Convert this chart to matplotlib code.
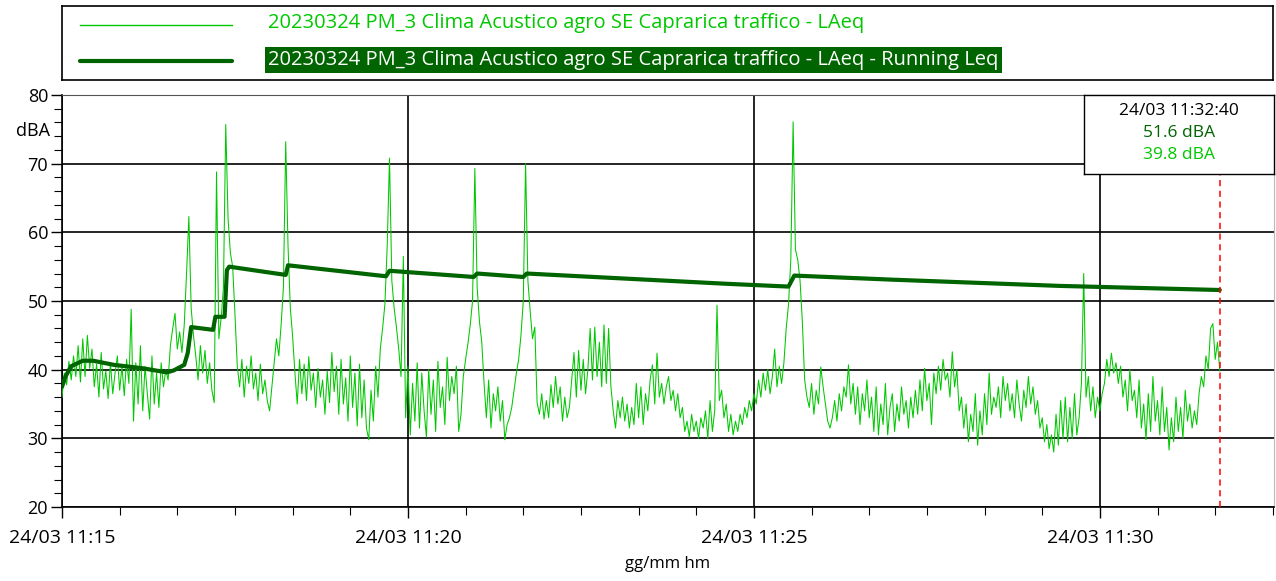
"""Andamento LAeq e Running Leq - 20230324 PM_3 Clima Acustico agro SE Caprarica traffico."""

import matplotlib
matplotlib.use("Agg")
import matplotlib.pyplot as plt
import numpy as np
from matplotlib.ticker import FixedLocator, MultipleLocator

plt.rcParams["font.family"] = ["Open Sans", "DejaVu Sans"]

SERIES_NAME = "20230324 PM_3 Clima Acustico agro SE Caprarica traffico - LAeq"
RUNNING_NAME = SERIES_NAME + " - Running Leq"

# LAeq, un valore ogni 2 s a partire dalle 11:15:00 (dBA)
LAEQ_STEP_S = 2
laeq = [
    36.0, 39.5, 37.8, 41.2, 38.5, 42.0, 39.0, 43.5, 38.2, 44.5,
    39.0, 45.0, 40.2, 43.0, 37.5, 40.8, 36.0, 42.5, 37.2, 39.8,
    35.8, 41.0, 36.5, 39.5, 42.0, 37.0, 40.5, 36.2, 41.5, 38.0,
    48.8, 32.5, 41.0, 35.0, 43.5, 34.0, 40.5, 36.5, 32.8, 42.0,
    35.0, 39.5, 34.5, 41.0, 37.5, 40.0, 38.5, 43.5, 46.0, 48.2,
    43.0, 45.5, 42.5, 46.5, 54.0, 62.3, 49.0, 45.0, 42.0, 38.5,
    43.5, 39.5, 42.8, 38.0, 41.0, 37.0, 35.2, 68.8, 44.5, 47.5,
    52.0, 75.7, 62.0, 57.0, 55.0, 48.0, 40.5, 37.5, 41.5, 36.0,
    40.5, 38.0, 42.0, 37.2, 39.5, 35.5, 40.8, 36.5, 38.5, 35.5,
    34.0, 37.5, 41.0, 44.5, 42.0, 46.5, 52.0, 73.2, 58.0, 49.0,
    44.8, 39.5, 35.0, 41.5, 36.5, 40.8, 35.5, 41.9, 37.0, 39.5,
    34.5, 40.2, 36.0, 38.5, 33.5, 39.8, 35.2, 42.5, 36.8, 40.5,
    33.5, 41.5, 35.0, 38.8, 32.5, 42.0, 34.5, 39.5, 31.8, 40.8,
    33.0, 38.5, 31.5, 29.8, 37.0, 32.5, 40.5, 36.0, 43.0, 46.0,
    49.5, 58.0, 70.8, 53.0, 49.0, 46.2, 43.0, 39.0, 56.5, 33.0,
    40.5, 30.5, 38.0, 32.5, 41.0, 31.5, 39.5, 34.0, 30.2, 40.0,
    33.5, 38.5, 31.0, 41.2, 34.5, 37.5, 32.0, 41.8, 35.5, 39.0,
    36.5, 40.5, 31.0, 33.5, 39.0, 41.5, 43.8, 46.5, 50.0, 69.3,
    52.0, 47.0, 44.0, 38.0, 33.0, 38.5, 31.5, 36.5, 34.0, 37.5,
    32.5, 35.5, 29.8, 32.0, 33.0, 34.5, 37.0, 39.5, 41.5, 45.0,
    50.0, 70.0, 53.0, 48.5, 44.5, 46.2, 35.2, 33.5, 36.5, 32.8,
    35.5, 33.0, 37.8, 34.5, 39.0, 35.0, 37.5, 32.5, 36.0, 33.0,
    34.5, 38.5, 42.5, 36.0, 42.8, 37.0, 41.5, 36.5, 40.0, 46.0,
    38.5, 46.2, 39.0, 44.0, 37.5, 46.5, 38.0, 46.0, 37.5, 34.0,
    31.5, 35.5, 33.0, 36.0, 32.5, 35.0, 31.5, 34.5, 32.0, 38.0,
    33.0, 37.5, 32.0, 36.5, 34.0, 38.5, 40.7, 35.0, 42.4, 36.0,
    38.0, 35.0, 37.5, 39.0, 35.5, 37.0, 34.0, 36.5, 33.0, 34.5,
    31.0, 32.5, 30.2, 33.5, 31.0, 32.5, 30.0, 33.0, 31.5, 34.0,
    30.0, 35.5, 31.0, 34.0, 49.4, 35.5, 37.0, 33.0, 35.0, 31.0,
    33.5, 30.5, 32.5, 31.0, 33.5, 32.0, 34.5, 33.0, 35.5, 34.0,
    36.5, 35.0, 38.5, 36.0, 39.5, 37.0, 40.0, 36.5, 39.0, 43.0,
    37.5, 40.5, 38.0, 41.0, 46.0, 49.5, 56.0, 76.1, 57.5, 56.0,
    53.0, 47.0, 38.5, 36.0, 34.5, 38.0, 33.5, 37.0, 35.0, 40.4,
    37.5, 35.0, 32.5, 31.5, 33.0, 35.5, 32.5, 36.5, 34.0, 37.5,
    36.0, 40.7, 35.0, 38.0, 33.5, 37.5, 32.0, 36.5, 34.0, 38.5,
    33.0, 36.0, 31.0, 37.5, 30.5, 35.0, 32.0, 38.0, 30.5, 34.5,
    36.5, 31.0, 35.0, 32.5, 37.5, 33.5, 35.5, 31.5, 36.0, 33.0,
    37.0, 33.5, 38.5, 34.0, 40.2, 35.5, 38.0, 32.0, 39.5, 36.5,
    40.5, 37.0, 41.5, 38.5, 39.5, 36.0, 42.6, 37.5, 40.0, 34.0,
    36.0, 31.5, 35.0, 29.5, 33.5, 31.0, 36.5, 29.0, 34.0, 30.5,
    36.5, 32.0, 39.5, 33.5, 36.0, 34.5, 37.5, 33.0, 39.0, 35.5,
    38.0, 34.0, 36.5, 33.0, 38.5, 35.0, 32.5, 37.0, 34.5, 39.0,
    35.0, 37.5, 33.5, 35.5, 31.5, 33.0, 29.5, 32.0, 28.5, 30.5,
    28.0, 33.5, 29.0, 35.5, 30.0, 36.0, 29.5, 34.5, 30.0, 36.5,
    30.5, 33.0, 38.0, 54.0, 36.0, 39.0, 34.0, 37.5, 33.0, 36.0,
    34.0, 36.5, 38.0, 41.5, 39.0, 42.4, 39.5, 41.0, 38.0, 40.5,
    36.0, 38.5, 34.0, 40.0, 35.5, 37.0, 33.0, 38.5, 31.5, 35.0,
    29.8, 36.5, 31.0, 39.0, 32.5, 35.5, 30.5, 37.5, 31.0, 34.5,
    28.3, 33.0, 29.5, 36.0, 31.0, 34.5, 30.0, 37.0, 32.5, 35.0,
    31.5, 34.0, 32.0, 36.5, 39.0, 37.5, 42.0, 40.0, 46.0, 46.7,
    41.5, 44.0, 39.8,
]

# Running Leq: secondi dalle 11:15:00 e valori (dBA)
running_t = [0, 3, 8, 18, 27, 45, 70, 91, 97, 106, 109, 112, 131, 133, 141, 143,
             145, 194, 196, 281, 284, 357, 360, 400, 403, 577, 630, 635, 721,
             865, 1004]
running_leq = [37.5, 39.0, 40.5, 41.3, 41.3, 40.7, 40.2, 39.6, 39.9, 40.7, 42.4,
               46.2, 45.8, 47.7, 47.7, 54.5, 55.0, 53.8, 55.2, 53.6, 54.4, 53.5,
               54.0, 53.5, 54.0, 52.5, 52.1, 53.7, 53.1, 52.2, 51.6]

# Asse dei tempi
major_ticks_s = [0, 300, 600, 900]
major_labels = ["24/03 11:15", "24/03 11:20", "24/03 11:25", "24/03 11:30"]
x_end_s = 1051
cursor_s = 1004
cursor_text = ["24/03 11:32:40", "51.6 dBA", "39.8 dBA"]

GREEN = "#00C800"
DARK_GREEN = "#006400"

fig = plt.figure(figsize=(12.76, 5.81), dpi=100)
W, H = 1276, 581

ax = fig.add_axes([62 / W, 1 - 507 / H, (1274 - 62) / W, (507 - 95) / H])
laeq_t = np.arange(len(laeq)) * LAEQ_STEP_S
ax.plot(laeq_t, laeq, color=GREEN, lw=0.75, zorder=3)
ax.plot(running_t, running_leq, color=DARK_GREEN, lw=3.0, zorder=4,
        solid_capstyle="round")

ax.set_xlim(0, x_end_s)
ax.set_ylim(20, 80)

ax.yaxis.set_major_locator(MultipleLocator(10))
ax.yaxis.set_minor_locator(MultipleLocator(2))
ax.xaxis.set_major_locator(FixedLocator(major_ticks_s))
ax.xaxis.set_minor_locator(MultipleLocator(50))
ax.set_xticklabels(major_labels)
ax.tick_params(axis="both", which="major", length=8, width=1,
               direction="out", colors="black")
ax.tick_params(axis="y", which="major", labelsize=13, pad=2)
ax.tick_params(axis="x", which="major", labelsize=14, pad=8)
ax.tick_params(axis="both", which="minor", length=6, width=0.8, direction="out")

ax.grid(True, which="major", color="black", lw=1.2, zorder=1)
for side in ["left", "bottom"]:
    ax.spines[side].set_linewidth(1.2)
ax.spines["top"].set_color("#555555")
ax.spines["right"].set_color("#bbbbbb")

ax.text(50 / W, 1 - 131 / H, "dBA", transform=fig.transFigure, ha="right",
        va="center", fontsize=13)
ax.set_xlabel("gg/mm hm", fontsize=12, labelpad=6)

# cursore
ax.axvline(cursor_s, ymax=(68.5 - 20) / 60, color="red", lw=1.1,
           ls=(0, (4, 3)), zorder=5)
box = fig.add_axes([1084 / W, 1 - 174 / H, (1274 - 1084) / W, (174 - 95) / H])
box.set_xticks([])
box.set_yticks([])
for s in box.spines.values():
    s.set_linewidth(1.0)
for text, color, yy in zip(cursor_text, ["black", DARK_GREEN, GREEN],
                           [0.80, 0.52, 0.24]):
    box.text(0.5, yy, text, color=color, ha="center", va="center",
             fontsize=12.5, transform=box.transAxes)

# legenda
leg = fig.add_axes([62 / W, 1 - 80 / H, (1273 - 62) / W, (80 - 6) / H])
leg.set_xlim(62, 1273)
leg.set_ylim(80, 6)
leg.set_xticks([])
leg.set_yticks([])
for s in leg.spines.values():
    s.set_linewidth(1.2)
leg.plot([80, 232], [25, 25], color=GREEN, lw=1.0)
leg.plot([80, 232], [61, 61], color=DARK_GREEN, lw=3.0, solid_capstyle="round")
leg.text(268, 23, SERIES_NAME, color=GREEN, fontsize=14.5, va="center",
         ha="left")
leg.text(268, 60, RUNNING_NAME, color="white", fontsize=14.5, va="center",
         ha="left", bbox=dict(facecolor=DARK_GREEN, edgecolor="none", pad=2.5))

fig.savefig("out.png", dpi=100)
